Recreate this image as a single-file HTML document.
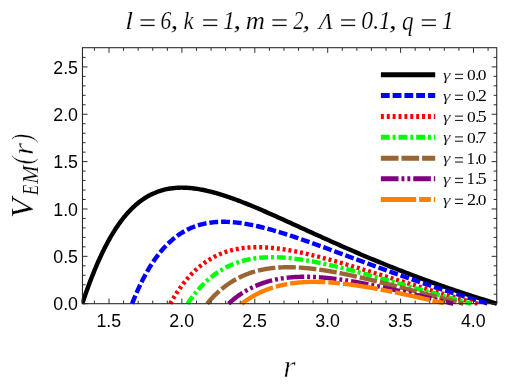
<!DOCTYPE html>
<html><head><meta charset="utf-8"><style>
html,body{margin:0;padding:0;background:#fff;}
svg{display:block;will-change:transform}
.sans{font-family:"Liberation Sans",sans-serif;fill:#000}
.si{font-family:"Liberation Serif",serif;font-style:italic;fill:#000}
.sr{font-family:"Liberation Serif",serif;fill:#000}
</style></head><body>
<svg width="532" height="387" viewBox="0 0 532 387">
<rect width="532" height="387" fill="#fff"/>
<defs><clipPath id="c"><rect x="81.45" y="47.7" width="418.3" height="259.0"/></clipPath></defs>
<g clip-path="url(#c)">
<path d="M82.23,303.70 L83.42,300.18 L84.60,296.73 L85.79,293.33 L86.98,290.00 L88.17,286.74 L89.36,283.53 L90.55,280.40 L91.73,277.32 L92.92,274.32 L94.11,271.37 L95.30,268.50 L96.49,265.68 L97.67,262.93 L98.86,260.25 L100.05,257.62 L101.24,255.06 L102.43,252.57 L103.62,250.13 L104.80,247.76 L105.99,245.44 L107.18,243.19 L108.37,240.99 L109.56,238.86 L110.75,236.78 L111.93,234.75 L113.12,232.79 L114.31,230.88 L115.50,229.02 L116.69,227.22 L117.88,225.47 L119.06,223.77 L120.25,222.12 L121.44,220.53 L122.63,218.98 L123.82,217.48 L125.01,216.03 L126.19,214.63 L127.38,213.27 L128.57,211.95 L129.76,210.69 L130.95,209.46 L132.14,208.28 L133.32,207.14 L134.51,206.04 L135.70,204.98 L136.89,203.96 L138.08,202.98 L139.27,202.04 L140.45,201.13 L141.64,200.26 L142.83,199.43 L144.02,198.63 L145.21,197.86 L146.40,197.13 L147.58,196.44 L148.77,195.77 L149.96,195.13 L151.15,194.53 L152.34,193.96 L153.53,193.41 L154.71,192.90 L155.90,192.41 L157.09,191.95 L158.28,191.52 L159.47,191.11 L160.66,190.73 L161.84,190.37 L163.03,190.04 L164.22,189.74 L165.41,189.45 L166.60,189.19 L167.79,188.95 L168.97,188.74 L170.16,188.54 L171.35,188.37 L172.54,188.21 L173.73,188.08 L174.92,187.97 L176.10,187.87 L177.29,187.80 L178.48,187.74 L179.67,187.70 L180.86,187.67 L182.05,187.67 L183.23,187.68 L184.42,187.70 L185.61,187.75 L186.80,187.80 L187.99,187.88 L189.18,187.96 L190.36,188.06 L191.55,188.18 L192.74,188.31 L193.93,188.45 L195.12,188.60 L196.31,188.77 L197.49,188.95 L198.68,189.14 L199.87,189.34 L201.06,189.55 L202.25,189.78 L203.44,190.01 L204.62,190.26 L205.81,190.52 L207.00,190.78 L208.19,191.06 L209.38,191.34 L210.57,191.64 L211.75,191.94 L212.94,192.25 L214.13,192.57 L215.32,192.90 L216.51,193.23 L217.70,193.58 L218.88,193.93 L220.07,194.29 L221.26,194.65 L222.45,195.02 L223.64,195.40 L224.83,195.79 L226.01,196.18 L227.20,196.58 L228.39,196.98 L229.58,197.39 L230.77,197.81 L231.96,198.23 L233.14,198.65 L234.33,199.08 L235.52,199.52 L236.71,199.96 L237.90,200.41 L239.09,200.86 L240.27,201.31 L241.46,201.77 L242.65,202.23 L243.84,202.70 L245.03,203.17 L246.22,203.64 L247.40,204.12 L248.59,204.60 L249.78,205.08 L250.97,205.57 L252.16,206.06 L253.35,206.55 L254.53,207.05 L255.72,207.55 L256.91,208.05 L258.10,208.55 L259.29,209.06 L260.48,209.57 L261.66,210.08 L262.85,210.59 L264.04,211.11 L265.23,211.63 L266.42,212.14 L267.61,212.66 L268.79,213.19 L269.98,213.71 L271.17,214.24 L272.36,214.76 L273.55,215.29 L274.74,215.82 L275.92,216.35 L277.11,216.88 L278.30,217.42 L279.49,217.95 L280.68,218.49 L281.87,219.02 L283.05,219.56 L284.24,220.10 L285.43,220.64 L286.62,221.17 L287.81,221.71 L289.00,222.25 L290.18,222.79 L291.37,223.34 L292.56,223.88 L293.75,224.42 L294.94,224.96 L296.13,225.50 L297.31,226.05 L298.50,226.59 L299.69,227.13 L300.88,227.67 L302.07,228.22 L303.26,228.76 L304.44,229.30 L305.63,229.84 L306.82,230.39 L308.01,230.93 L309.20,231.47 L310.39,232.01 L311.57,232.55 L312.76,233.09 L313.95,233.63 L315.14,234.17 L316.33,234.71 L317.52,235.25 L318.70,235.79 L319.89,236.33 L321.08,236.87 L322.27,237.41 L323.46,237.94 L324.65,238.48 L325.83,239.01 L327.02,239.55 L328.21,240.08 L329.40,240.61 L330.59,241.15 L331.78,241.68 L332.96,242.21 L334.15,242.74 L335.34,243.27 L336.53,243.80 L337.72,244.32 L338.91,244.85 L340.09,245.37 L341.28,245.90 L342.47,246.42 L343.66,246.95 L344.85,247.47 L346.04,247.99 L347.22,248.51 L348.41,249.03 L349.60,249.54 L350.79,250.06 L351.98,250.57 L353.17,251.09 L354.35,251.60 L355.54,252.11 L356.73,252.63 L357.92,253.14 L359.11,253.64 L360.30,254.15 L361.48,254.66 L362.67,255.16 L363.86,255.67 L365.05,256.17 L366.24,256.67 L367.43,257.17 L368.61,257.67 L369.80,258.17 L370.99,258.66 L372.18,259.16 L373.37,259.65 L374.56,260.15 L375.74,260.64 L376.93,261.13 L378.12,261.62 L379.31,262.10 L380.50,262.59 L381.69,263.08 L382.87,263.56 L384.06,264.04 L385.25,264.52 L386.44,265.00 L387.63,265.48 L388.82,265.96 L390.00,266.43 L391.19,266.91 L392.38,267.38 L393.57,267.85 L394.76,268.32 L395.94,268.79 L397.13,269.26 L398.32,269.73 L399.51,270.19 L400.70,270.66 L401.89,271.12 L403.07,271.58 L404.26,272.04 L405.45,272.50 L406.64,272.95 L407.83,273.41 L409.02,273.86 L410.20,274.31 L411.39,274.77 L412.58,275.22 L413.77,275.66 L414.96,276.11 L416.15,276.56 L417.33,277.00 L418.52,277.44 L419.71,277.89 L420.90,278.33 L422.09,278.76 L423.28,279.20 L424.46,279.64 L425.65,280.07 L426.84,280.51 L428.03,280.94 L429.22,281.37 L430.41,281.80 L431.59,282.23 L432.78,282.65 L433.97,283.08 L435.16,283.50 L436.35,283.92 L437.54,284.34 L438.72,284.76 L439.91,285.18 L441.10,285.60 L442.29,286.01 L443.48,286.43 L444.67,286.84 L445.85,287.25 L447.04,287.66 L448.23,288.07 L449.42,288.48 L450.61,288.89 L451.80,289.29 L452.98,289.69 L454.17,290.10 L455.36,290.50 L456.55,290.90 L457.74,291.29 L458.93,291.69 L460.11,292.09 L461.30,292.48 L462.49,292.87 L463.68,293.26 L464.87,293.65 L466.06,294.04 L467.24,294.43 L468.43,294.82 L469.62,295.20 L470.81,295.58 L472.00,295.97 L473.19,296.35 L474.37,296.73 L475.56,297.11 L476.75,297.48 L477.94,297.86 L479.13,298.23 L480.32,298.61 L481.50,298.98 L482.69,299.35 L483.88,299.72 L485.07,300.09 L486.26,300.45 L487.45,300.82 L488.63,301.18 L489.82,301.55 L491.01,301.91 L492.20,302.27 L493.39,302.63 L494.58,302.99 L495.76,303.34 L496.95,303.70" fill="none" stroke="#000000" stroke-width="4.4" stroke-linejoin="round"/>
<path d="M132.08,303.70 L133.10,301.12 L134.12,298.61 L135.14,296.15 L136.16,293.76 L137.18,291.43 L138.21,289.15 L139.23,286.94 L140.25,284.78 L141.27,282.67 L142.29,280.62 L143.31,278.62 L144.33,276.67 L145.36,274.77 L146.38,272.93 L147.40,271.13 L148.42,269.38 L149.44,267.67 L150.46,266.01 L151.48,264.39 L152.51,262.82 L153.53,261.29 L154.55,259.80 L155.57,258.35 L156.59,256.95 L157.61,255.58 L158.63,254.25 L159.65,252.96 L160.68,251.70 L161.70,250.48 L162.72,249.30 L163.74,248.15 L164.76,247.03 L165.78,245.95 L166.80,244.90 L167.83,243.88 L168.85,242.89 L169.87,241.93 L170.89,241.01 L171.91,240.11 L172.93,239.24 L173.95,238.40 L174.98,237.58 L176.00,236.79 L177.02,236.03 L178.04,235.30 L179.06,234.59 L180.08,233.90 L181.10,233.24 L182.13,232.60 L183.15,231.99 L184.17,231.39 L185.19,230.82 L186.21,230.27 L187.23,229.75 L188.25,229.24 L189.28,228.76 L190.30,228.29 L191.32,227.84 L192.34,227.42 L193.36,227.01 L194.38,226.62 L195.40,226.25 L196.43,225.89 L197.45,225.56 L198.47,225.24 L199.49,224.93 L200.51,224.64 L201.53,224.37 L202.55,224.12 L203.57,223.88 L204.60,223.65 L205.62,223.44 L206.64,223.24 L207.66,223.06 L208.68,222.89 L209.70,222.73 L210.72,222.59 L211.75,222.46 L212.77,222.34 L213.79,222.24 L214.81,222.14 L215.83,222.06 L216.85,221.99 L217.87,221.93 L218.90,221.88 L219.92,221.85 L220.94,221.82 L221.96,221.80 L222.98,221.80 L224.00,221.80 L225.02,221.81 L226.05,221.84 L227.07,221.87 L228.09,221.91 L229.11,221.96 L230.13,222.02 L231.15,222.08 L232.17,222.16 L233.20,222.24 L234.22,222.34 L235.24,222.43 L236.26,222.54 L237.28,222.66 L238.30,222.78 L239.32,222.91 L240.34,223.04 L241.37,223.18 L242.39,223.33 L243.41,223.49 L244.43,223.65 L245.45,223.82 L246.47,223.99 L247.49,224.17 L248.52,224.36 L249.54,224.55 L250.56,224.75 L251.58,224.95 L252.60,225.16 L253.62,225.37 L254.64,225.59 L255.67,225.81 L256.69,226.04 L257.71,226.27 L258.73,226.51 L259.75,226.75 L260.77,227.00 L261.79,227.25 L262.82,227.50 L263.84,227.76 L264.86,228.02 L265.88,228.29 L266.90,228.56 L267.92,228.83 L268.94,229.11 L269.97,229.39 L270.99,229.67 L272.01,229.96 L273.03,230.25 L274.05,230.54 L275.07,230.84 L276.09,231.14 L277.12,231.44 L278.14,231.75 L279.16,232.05 L280.18,232.37 L281.20,232.68 L282.22,233.00 L283.24,233.31 L284.26,233.63 L285.29,233.96 L286.31,234.28 L287.33,234.61 L288.35,234.94 L289.37,235.27 L290.39,235.61 L291.41,235.94 L292.44,236.28 L293.46,236.62 L294.48,236.96 L295.50,237.31 L296.52,237.65 L297.54,238.00 L298.56,238.35 L299.59,238.70 L300.61,239.05 L301.63,239.40 L302.65,239.75 L303.67,240.11 L304.69,240.47 L305.71,240.82 L306.74,241.18 L307.76,241.54 L308.78,241.90 L309.80,242.27 L310.82,242.63 L311.84,243.00 L312.86,243.36 L313.89,243.73 L314.91,244.09 L315.93,244.46 L316.95,244.83 L317.97,245.20 L318.99,245.57 L320.01,245.94 L321.04,246.31 L322.06,246.69 L323.08,247.06 L324.10,247.43 L325.12,247.81 L326.14,248.18 L327.16,248.56 L328.18,248.93 L329.21,249.31 L330.23,249.69 L331.25,250.06 L332.27,250.44 L333.29,250.82 L334.31,251.19 L335.33,251.57 L336.36,251.95 L337.38,252.33 L338.40,252.71 L339.42,253.09 L340.44,253.47 L341.46,253.84 L342.48,254.22 L343.51,254.60 L344.53,254.98 L345.55,255.36 L346.57,255.74 L347.59,256.12 L348.61,256.50 L349.63,256.88 L350.66,257.26 L351.68,257.64 L352.70,258.02 L353.72,258.39 L354.74,258.77 L355.76,259.15 L356.78,259.53 L357.81,259.91 L358.83,260.29 L359.85,260.66 L360.87,261.04 L361.89,261.42 L362.91,261.80 L363.93,262.17 L364.95,262.55 L365.98,262.93 L367.00,263.30 L368.02,263.68 L369.04,264.05 L370.06,264.43 L371.08,264.80 L372.10,265.18 L373.13,265.55 L374.15,265.92 L375.17,266.30 L376.19,266.67 L377.21,267.04 L378.23,267.41 L379.25,267.78 L380.28,268.15 L381.30,268.52 L382.32,268.89 L383.34,269.26 L384.36,269.63 L385.38,270.00 L386.40,270.37 L387.43,270.74 L388.45,271.10 L389.47,271.47 L390.49,271.83 L391.51,272.20 L392.53,272.56 L393.55,272.93 L394.58,273.29 L395.60,273.65 L396.62,274.02 L397.64,274.38 L398.66,274.74 L399.68,275.10 L400.70,275.46 L401.73,275.82 L402.75,276.18 L403.77,276.53 L404.79,276.89 L405.81,277.25 L406.83,277.60 L407.85,277.96 L408.87,278.31 L409.90,278.67 L410.92,279.02 L411.94,279.37 L412.96,279.73 L413.98,280.08 L415.00,280.43 L416.02,280.78 L417.05,281.13 L418.07,281.47 L419.09,281.82 L420.11,282.17 L421.13,282.52 L422.15,282.86 L423.17,283.21 L424.20,283.55 L425.22,283.89 L426.24,284.24 L427.26,284.58 L428.28,284.92 L429.30,285.26 L430.32,285.60 L431.35,285.94 L432.37,286.28 L433.39,286.61 L434.41,286.95 L435.43,287.29 L436.45,287.62 L437.47,287.96 L438.50,288.29 L439.52,288.62 L440.54,288.96 L441.56,289.29 L442.58,289.62 L443.60,289.95 L444.62,290.28 L445.64,290.61 L446.67,290.93 L447.69,291.26 L448.71,291.59 L449.73,291.91 L450.75,292.24 L451.77,292.56 L452.79,292.88 L453.82,293.21 L454.84,293.53 L455.86,293.85 L456.88,294.17 L457.90,294.49 L458.92,294.81 L459.94,295.12 L460.97,295.44 L461.99,295.76 L463.01,296.07 L464.03,296.39 L465.05,296.70 L466.07,297.01 L467.09,297.33 L468.12,297.64 L469.14,297.95 L470.16,298.26 L471.18,298.57 L472.20,298.87 L473.22,299.18 L474.24,299.49 L475.27,299.79 L476.29,300.10 L477.31,300.40 L478.33,300.71 L479.35,301.01 L480.37,301.31 L481.39,301.61 L482.42,301.91 L483.44,302.21 L484.46,302.51 L485.48,302.81 L486.50,303.11 L487.52,303.40 L488.54,303.70" fill="none" stroke="#0000ff" stroke-width="4.4" stroke-linejoin="round" stroke-dasharray="8.82,2.94" stroke-dashoffset="0"/>
<path d="M170.24,303.70 L171.13,302.13 L172.01,300.60 L172.89,299.10 L173.77,297.63 L174.65,296.19 L175.53,294.79 L176.41,293.41 L177.29,292.07 L178.17,290.75 L179.05,289.47 L179.93,288.21 L180.81,286.98 L181.69,285.78 L182.57,284.60 L183.46,283.45 L184.34,282.33 L185.22,281.24 L186.10,280.16 L186.98,279.12 L187.86,278.10 L188.74,277.10 L189.62,276.12 L190.50,275.17 L191.38,274.24 L192.26,273.33 L193.14,272.45 L194.02,271.58 L194.90,270.74 L195.79,269.92 L196.67,269.11 L197.55,268.33 L198.43,267.57 L199.31,266.82 L200.19,266.10 L201.07,265.39 L201.95,264.70 L202.83,264.03 L203.71,263.38 L204.59,262.75 L205.47,262.13 L206.35,261.53 L207.23,260.94 L208.12,260.37 L209.00,259.82 L209.88,259.28 L210.76,258.76 L211.64,258.25 L212.52,257.76 L213.40,257.28 L214.28,256.81 L215.16,256.36 L216.04,255.93 L216.92,255.50 L217.80,255.09 L218.68,254.70 L219.56,254.31 L220.45,253.94 L221.33,253.58 L222.21,253.23 L223.09,252.90 L223.97,252.58 L224.85,252.26 L225.73,251.96 L226.61,251.67 L227.49,251.39 L228.37,251.13 L229.25,250.87 L230.13,250.62 L231.01,250.38 L231.89,250.16 L232.77,249.94 L233.66,249.73 L234.54,249.53 L235.42,249.34 L236.30,249.16 L237.18,248.99 L238.06,248.83 L238.94,248.68 L239.82,248.53 L240.70,248.40 L241.58,248.27 L242.46,248.15 L243.34,248.03 L244.22,247.93 L245.10,247.83 L245.99,247.74 L246.87,247.66 L247.75,247.59 L248.63,247.52 L249.51,247.46 L250.39,247.40 L251.27,247.36 L252.15,247.32 L253.03,247.28 L253.91,247.25 L254.79,247.23 L255.67,247.22 L256.55,247.21 L257.43,247.21 L258.32,247.21 L259.20,247.22 L260.08,247.23 L260.96,247.25 L261.84,247.28 L262.72,247.31 L263.60,247.34 L264.48,247.38 L265.36,247.43 L266.24,247.48 L267.12,247.53 L268.00,247.60 L268.88,247.66 L269.76,247.73 L270.65,247.80 L271.53,247.88 L272.41,247.97 L273.29,248.05 L274.17,248.14 L275.05,248.24 L275.93,248.34 L276.81,248.44 L277.69,248.55 L278.57,248.66 L279.45,248.78 L280.33,248.90 L281.21,249.02 L282.09,249.15 L282.98,249.27 L283.86,249.41 L284.74,249.54 L285.62,249.68 L286.50,249.83 L287.38,249.97 L288.26,250.12 L289.14,250.27 L290.02,250.43 L290.90,250.59 L291.78,250.75 L292.66,250.91 L293.54,251.08 L294.42,251.25 L295.31,251.42 L296.19,251.59 L297.07,251.77 L297.95,251.95 L298.83,252.13 L299.71,252.32 L300.59,252.50 L301.47,252.69 L302.35,252.88 L303.23,253.08 L304.11,253.27 L304.99,253.47 L305.87,253.67 L306.75,253.87 L307.64,254.08 L308.52,254.28 L309.40,254.49 L310.28,254.70 L311.16,254.91 L312.04,255.12 L312.92,255.34 L313.80,255.56 L314.68,255.77 L315.56,255.99 L316.44,256.22 L317.32,256.44 L318.20,256.66 L319.08,256.89 L319.96,257.12 L320.85,257.35 L321.73,257.58 L322.61,257.81 L323.49,258.04 L324.37,258.28 L325.25,258.51 L326.13,258.75 L327.01,258.99 L327.89,259.23 L328.77,259.47 L329.65,259.71 L330.53,259.95 L331.41,260.20 L332.29,260.44 L333.18,260.69 L334.06,260.94 L334.94,261.18 L335.82,261.43 L336.70,261.68 L337.58,261.93 L338.46,262.19 L339.34,262.44 L340.22,262.69 L341.10,262.95 L341.98,263.20 L342.86,263.46 L343.74,263.71 L344.62,263.97 L345.51,264.23 L346.39,264.49 L347.27,264.75 L348.15,265.01 L349.03,265.27 L349.91,265.53 L350.79,265.79 L351.67,266.05 L352.55,266.32 L353.43,266.58 L354.31,266.84 L355.19,267.11 L356.07,267.37 L356.95,267.64 L357.84,267.90 L358.72,268.17 L359.60,268.44 L360.48,268.70 L361.36,268.97 L362.24,269.24 L363.12,269.51 L364.00,269.77 L364.88,270.04 L365.76,270.31 L366.64,270.58 L367.52,270.85 L368.40,271.12 L369.28,271.39 L370.17,271.66 L371.05,271.93 L371.93,272.20 L372.81,272.47 L373.69,272.74 L374.57,273.01 L375.45,273.28 L376.33,273.56 L377.21,273.83 L378.09,274.10 L378.97,274.37 L379.85,274.64 L380.73,274.91 L381.61,275.19 L382.50,275.46 L383.38,275.73 L384.26,276.00 L385.14,276.27 L386.02,276.55 L386.90,276.82 L387.78,277.09 L388.66,277.36 L389.54,277.64 L390.42,277.91 L391.30,278.18 L392.18,278.45 L393.06,278.72 L393.94,279.00 L394.82,279.27 L395.71,279.54 L396.59,279.81 L397.47,280.08 L398.35,280.35 L399.23,280.63 L400.11,280.90 L400.99,281.17 L401.87,281.44 L402.75,281.71 L403.63,281.98 L404.51,282.25 L405.39,282.52 L406.27,282.79 L407.15,283.06 L408.04,283.33 L408.92,283.60 L409.80,283.87 L410.68,284.14 L411.56,284.41 L412.44,284.68 L413.32,284.95 L414.20,285.22 L415.08,285.48 L415.96,285.75 L416.84,286.02 L417.72,286.29 L418.60,286.55 L419.48,286.82 L420.37,287.09 L421.25,287.35 L422.13,287.62 L423.01,287.89 L423.89,288.15 L424.77,288.42 L425.65,288.68 L426.53,288.95 L427.41,289.21 L428.29,289.48 L429.17,289.74 L430.05,290.00 L430.93,290.27 L431.81,290.53 L432.70,290.79 L433.58,291.06 L434.46,291.32 L435.34,291.58 L436.22,291.84 L437.10,292.10 L437.98,292.36 L438.86,292.62 L439.74,292.88 L440.62,293.14 L441.50,293.40 L442.38,293.66 L443.26,293.92 L444.14,294.18 L445.03,294.44 L445.91,294.69 L446.79,294.95 L447.67,295.21 L448.55,295.46 L449.43,295.72 L450.31,295.98 L451.19,296.23 L452.07,296.49 L452.95,296.74 L453.83,296.99 L454.71,297.25 L455.59,297.50 L456.47,297.75 L457.36,298.01 L458.24,298.26 L459.12,298.51 L460.00,298.76 L460.88,299.01 L461.76,299.26 L462.64,299.51 L463.52,299.76 L464.40,300.01 L465.28,300.26 L466.16,300.51 L467.04,300.76 L467.92,301.00 L468.80,301.25 L469.68,301.50 L470.57,301.74 L471.45,301.99 L472.33,302.24 L473.21,302.48 L474.09,302.73 L474.97,302.97 L475.85,303.21 L476.73,303.46 L477.61,303.70" fill="none" stroke="#ff0000" stroke-width="4.4" stroke-linejoin="round" stroke-dasharray="2.94,2.94" stroke-dashoffset="0"/>
<path d="M187.60,303.70 L188.41,302.50 L189.22,301.32 L190.03,300.16 L190.85,299.02 L191.66,297.91 L192.47,296.82 L193.29,295.76 L194.10,294.71 L194.91,293.69 L195.73,292.68 L196.54,291.70 L197.35,290.74 L198.17,289.79 L198.98,288.87 L199.79,287.97 L200.60,287.08 L201.42,286.21 L202.23,285.37 L203.04,284.54 L203.86,283.72 L204.67,282.93 L205.48,282.15 L206.30,281.39 L207.11,280.64 L207.92,279.92 L208.74,279.20 L209.55,278.51 L210.36,277.83 L211.17,277.16 L211.99,276.51 L212.80,275.87 L213.61,275.25 L214.43,274.65 L215.24,274.05 L216.05,273.47 L216.87,272.91 L217.68,272.36 L218.49,271.82 L219.31,271.29 L220.12,270.78 L220.93,270.28 L221.74,269.79 L222.56,269.32 L223.37,268.85 L224.18,268.40 L225.00,267.96 L225.81,267.53 L226.62,267.12 L227.44,266.71 L228.25,266.31 L229.06,265.93 L229.88,265.56 L230.69,265.19 L231.50,264.84 L232.31,264.50 L233.13,264.16 L233.94,263.84 L234.75,263.53 L235.57,263.22 L236.38,262.93 L237.19,262.64 L238.01,262.36 L238.82,262.09 L239.63,261.83 L240.45,261.58 L241.26,261.34 L242.07,261.11 L242.88,260.88 L243.70,260.66 L244.51,260.45 L245.32,260.25 L246.14,260.06 L246.95,259.87 L247.76,259.69 L248.58,259.52 L249.39,259.35 L250.20,259.20 L251.02,259.04 L251.83,258.90 L252.64,258.76 L253.45,258.63 L254.27,258.51 L255.08,258.39 L255.89,258.28 L256.71,258.17 L257.52,258.08 L258.33,257.98 L259.15,257.90 L259.96,257.81 L260.77,257.74 L261.59,257.67 L262.40,257.60 L263.21,257.55 L264.02,257.49 L264.84,257.44 L265.65,257.40 L266.46,257.36 L267.28,257.33 L268.09,257.30 L268.90,257.28 L269.72,257.26 L270.53,257.25 L271.34,257.24 L272.15,257.24 L272.97,257.24 L273.78,257.24 L274.59,257.25 L275.41,257.27 L276.22,257.28 L277.03,257.31 L277.85,257.33 L278.66,257.36 L279.47,257.40 L280.29,257.44 L281.10,257.48 L281.91,257.52 L282.72,257.57 L283.54,257.63 L284.35,257.68 L285.16,257.74 L285.98,257.81 L286.79,257.87 L287.60,257.94 L288.42,258.02 L289.23,258.09 L290.04,258.17 L290.86,258.26 L291.67,258.34 L292.48,258.43 L293.29,258.52 L294.11,258.62 L294.92,258.72 L295.73,258.82 L296.55,258.92 L297.36,259.03 L298.17,259.14 L298.99,259.25 L299.80,259.36 L300.61,259.48 L301.43,259.60 L302.24,259.72 L303.05,259.85 L303.86,259.97 L304.68,260.10 L305.49,260.23 L306.30,260.37 L307.12,260.50 L307.93,260.64 L308.74,260.78 L309.56,260.92 L310.37,261.07 L311.18,261.22 L312.00,261.36 L312.81,261.51 L313.62,261.67 L314.43,261.82 L315.25,261.98 L316.06,262.13 L316.87,262.29 L317.69,262.46 L318.50,262.62 L319.31,262.78 L320.13,262.95 L320.94,263.12 L321.75,263.29 L322.57,263.46 L323.38,263.63 L324.19,263.81 L325.00,263.98 L325.82,264.16 L326.63,264.34 L327.44,264.52 L328.26,264.70 L329.07,264.88 L329.88,265.07 L330.70,265.25 L331.51,265.44 L332.32,265.63 L333.14,265.82 L333.95,266.01 L334.76,266.20 L335.57,266.39 L336.39,266.59 L337.20,266.78 L338.01,266.98 L338.83,267.18 L339.64,267.37 L340.45,267.57 L341.27,267.77 L342.08,267.97 L342.89,268.18 L343.71,268.38 L344.52,268.58 L345.33,268.79 L346.14,268.99 L346.96,269.20 L347.77,269.41 L348.58,269.62 L349.40,269.83 L350.21,270.04 L351.02,270.25 L351.84,270.46 L352.65,270.67 L353.46,270.88 L354.28,271.10 L355.09,271.31 L355.90,271.53 L356.71,271.74 L357.53,271.96 L358.34,272.17 L359.15,272.39 L359.97,272.61 L360.78,272.83 L361.59,273.05 L362.41,273.27 L363.22,273.49 L364.03,273.71 L364.85,273.93 L365.66,274.15 L366.47,274.37 L367.28,274.60 L368.10,274.82 L368.91,275.04 L369.72,275.27 L370.54,275.49 L371.35,275.71 L372.16,275.94 L372.98,276.16 L373.79,276.39 L374.60,276.62 L375.42,276.84 L376.23,277.07 L377.04,277.30 L377.85,277.52 L378.67,277.75 L379.48,277.98 L380.29,278.21 L381.11,278.44 L381.92,278.66 L382.73,278.89 L383.55,279.12 L384.36,279.35 L385.17,279.58 L385.99,279.81 L386.80,280.04 L387.61,280.27 L388.42,280.50 L389.24,280.73 L390.05,280.96 L390.86,281.19 L391.68,281.42 L392.49,281.65 L393.30,281.89 L394.12,282.12 L394.93,282.35 L395.74,282.58 L396.56,282.81 L397.37,283.04 L398.18,283.27 L398.99,283.51 L399.81,283.74 L400.62,283.97 L401.43,284.20 L402.25,284.43 L403.06,284.66 L403.87,284.90 L404.69,285.13 L405.50,285.36 L406.31,285.59 L407.13,285.82 L407.94,286.06 L408.75,286.29 L409.56,286.52 L410.38,286.75 L411.19,286.98 L412.00,287.21 L412.82,287.45 L413.63,287.68 L414.44,287.91 L415.26,288.14 L416.07,288.37 L416.88,288.60 L417.70,288.83 L418.51,289.06 L419.32,289.30 L420.13,289.53 L420.95,289.76 L421.76,289.99 L422.57,290.22 L423.39,290.45 L424.20,290.68 L425.01,290.91 L425.83,291.14 L426.64,291.37 L427.45,291.60 L428.26,291.83 L429.08,292.06 L429.89,292.29 L430.70,292.52 L431.52,292.75 L432.33,292.97 L433.14,293.20 L433.96,293.43 L434.77,293.66 L435.58,293.89 L436.40,294.12 L437.21,294.34 L438.02,294.57 L438.83,294.80 L439.65,295.03 L440.46,295.25 L441.27,295.48 L442.09,295.71 L442.90,295.93 L443.71,296.16 L444.53,296.38 L445.34,296.61 L446.15,296.84 L446.97,297.06 L447.78,297.29 L448.59,297.51 L449.40,297.74 L450.22,297.96 L451.03,298.18 L451.84,298.41 L452.66,298.63 L453.47,298.85 L454.28,299.08 L455.10,299.30 L455.91,299.52 L456.72,299.75 L457.54,299.97 L458.35,300.19 L459.16,300.41 L459.97,300.63 L460.79,300.85 L461.60,301.07 L462.41,301.29 L463.23,301.51 L464.04,301.73 L464.85,301.95 L465.67,302.17 L466.48,302.39 L467.29,302.61 L468.11,302.83 L468.92,303.05 L469.73,303.27 L470.54,303.48 L471.36,303.70" fill="none" stroke="#00ff00" stroke-width="4.4" stroke-linejoin="round" stroke-dasharray="8.82,2.94,2.94,2.94" stroke-dashoffset="0"/>
<path d="M207.04,303.70 L207.77,302.83 L208.50,301.97 L209.24,301.13 L209.97,300.30 L210.71,299.49 L211.44,298.70 L212.18,297.92 L212.91,297.15 L213.65,296.39 L214.38,295.65 L215.12,294.93 L215.85,294.22 L216.58,293.52 L217.32,292.83 L218.05,292.16 L218.79,291.50 L219.52,290.85 L220.26,290.21 L220.99,289.59 L221.73,288.98 L222.46,288.38 L223.19,287.79 L223.93,287.22 L224.66,286.65 L225.40,286.10 L226.13,285.56 L226.87,285.02 L227.60,284.50 L228.34,283.99 L229.07,283.49 L229.81,283.00 L230.54,282.52 L231.27,282.05 L232.01,281.59 L232.74,281.14 L233.48,280.70 L234.21,280.27 L234.95,279.85 L235.68,279.44 L236.42,279.04 L237.15,278.64 L237.88,278.25 L238.62,277.88 L239.35,277.51 L240.09,277.15 L240.82,276.80 L241.56,276.45 L242.29,276.12 L243.03,275.79 L243.76,275.47 L244.50,275.16 L245.23,274.85 L245.96,274.56 L246.70,274.27 L247.43,273.99 L248.17,273.71 L248.90,273.44 L249.64,273.18 L250.37,272.93 L251.11,272.68 L251.84,272.44 L252.57,272.21 L253.31,271.98 L254.04,271.76 L254.78,271.54 L255.51,271.34 L256.25,271.13 L256.98,270.94 L257.72,270.75 L258.45,270.56 L259.19,270.39 L259.92,270.21 L260.65,270.05 L261.39,269.89 L262.12,269.73 L262.86,269.58 L263.59,269.44 L264.33,269.30 L265.06,269.16 L265.80,269.03 L266.53,268.91 L267.27,268.79 L268.00,268.68 L268.73,268.57 L269.47,268.46 L270.20,268.36 L270.94,268.27 L271.67,268.18 L272.41,268.09 L273.14,268.01 L273.88,267.93 L274.61,267.86 L275.34,267.79 L276.08,267.73 L276.81,267.67 L277.55,267.61 L278.28,267.56 L279.02,267.51 L279.75,267.47 L280.49,267.43 L281.22,267.39 L281.96,267.36 L282.69,267.33 L283.42,267.30 L284.16,267.28 L284.89,267.27 L285.63,267.25 L286.36,267.24 L287.10,267.23 L287.83,267.23 L288.57,267.23 L289.30,267.23 L290.03,267.23 L290.77,267.24 L291.50,267.25 L292.24,267.27 L292.97,267.29 L293.71,267.31 L294.44,267.33 L295.18,267.36 L295.91,267.39 L296.65,267.42 L297.38,267.46 L298.11,267.49 L298.85,267.54 L299.58,267.58 L300.32,267.62 L301.05,267.67 L301.79,267.72 L302.52,267.78 L303.26,267.83 L303.99,267.89 L304.72,267.95 L305.46,268.02 L306.19,268.08 L306.93,268.15 L307.66,268.22 L308.40,268.29 L309.13,268.37 L309.87,268.45 L310.60,268.52 L311.34,268.61 L312.07,268.69 L312.80,268.77 L313.54,268.86 L314.27,268.95 L315.01,269.04 L315.74,269.13 L316.48,269.23 L317.21,269.33 L317.95,269.43 L318.68,269.53 L319.41,269.63 L320.15,269.73 L320.88,269.84 L321.62,269.95 L322.35,270.05 L323.09,270.17 L323.82,270.28 L324.56,270.39 L325.29,270.51 L326.03,270.62 L326.76,270.74 L327.49,270.86 L328.23,270.99 L328.96,271.11 L329.70,271.23 L330.43,271.36 L331.17,271.49 L331.90,271.62 L332.64,271.75 L333.37,271.88 L334.10,272.01 L334.84,272.14 L335.57,272.28 L336.31,272.42 L337.04,272.55 L337.78,272.69 L338.51,272.83 L339.25,272.97 L339.98,273.12 L340.72,273.26 L341.45,273.40 L342.18,273.55 L342.92,273.70 L343.65,273.84 L344.39,273.99 L345.12,274.14 L345.86,274.29 L346.59,274.45 L347.33,274.60 L348.06,274.75 L348.80,274.91 L349.53,275.06 L350.26,275.22 L351.00,275.38 L351.73,275.54 L352.47,275.69 L353.20,275.85 L353.94,276.02 L354.67,276.18 L355.41,276.34 L356.14,276.50 L356.87,276.67 L357.61,276.83 L358.34,277.00 L359.08,277.16 L359.81,277.33 L360.55,277.50 L361.28,277.67 L362.02,277.83 L362.75,278.00 L363.49,278.17 L364.22,278.35 L364.95,278.52 L365.69,278.69 L366.42,278.86 L367.16,279.04 L367.89,279.21 L368.63,279.38 L369.36,279.56 L370.10,279.73 L370.83,279.91 L371.56,280.09 L372.30,280.26 L373.03,280.44 L373.77,280.62 L374.50,280.80 L375.24,280.98 L375.97,281.16 L376.71,281.34 L377.44,281.52 L378.18,281.70 L378.91,281.88 L379.64,282.06 L380.38,282.24 L381.11,282.42 L381.85,282.61 L382.58,282.79 L383.32,282.97 L384.05,283.16 L384.79,283.34 L385.52,283.53 L386.25,283.71 L386.99,283.90 L387.72,284.08 L388.46,284.27 L389.19,284.45 L389.93,284.64 L390.66,284.83 L391.40,285.01 L392.13,285.20 L392.87,285.39 L393.60,285.58 L394.33,285.76 L395.07,285.95 L395.80,286.14 L396.54,286.33 L397.27,286.52 L398.01,286.71 L398.74,286.90 L399.48,287.08 L400.21,287.27 L400.94,287.46 L401.68,287.65 L402.41,287.84 L403.15,288.03 L403.88,288.22 L404.62,288.41 L405.35,288.61 L406.09,288.80 L406.82,288.99 L407.56,289.18 L408.29,289.37 L409.02,289.56 L409.76,289.75 L410.49,289.94 L411.23,290.13 L411.96,290.33 L412.70,290.52 L413.43,290.71 L414.17,290.90 L414.90,291.09 L415.63,291.29 L416.37,291.48 L417.10,291.67 L417.84,291.86 L418.57,292.05 L419.31,292.25 L420.04,292.44 L420.78,292.63 L421.51,292.82 L422.25,293.02 L422.98,293.21 L423.71,293.40 L424.45,293.59 L425.18,293.78 L425.92,293.98 L426.65,294.17 L427.39,294.36 L428.12,294.55 L428.86,294.75 L429.59,294.94 L430.32,295.13 L431.06,295.32 L431.79,295.51 L432.53,295.71 L433.26,295.90 L434.00,296.09 L434.73,296.28 L435.47,296.48 L436.20,296.67 L436.94,296.86 L437.67,297.05 L438.40,297.24 L439.14,297.43 L439.87,297.63 L440.61,297.82 L441.34,298.01 L442.08,298.20 L442.81,298.39 L443.55,298.58 L444.28,298.77 L445.02,298.96 L445.75,299.15 L446.48,299.35 L447.22,299.54 L447.95,299.73 L448.69,299.92 L449.42,300.11 L450.16,300.30 L450.89,300.49 L451.63,300.68 L452.36,300.87 L453.09,301.06 L453.83,301.25 L454.56,301.44 L455.30,301.63 L456.03,301.82 L456.77,302.00 L457.50,302.19 L458.24,302.38 L458.97,302.57 L459.71,302.76 L460.44,302.95 L461.17,303.14 L461.91,303.32 L462.64,303.51 L463.38,303.70" fill="none" stroke="#996633" stroke-width="4.4" stroke-linejoin="round" stroke-dasharray="17.64,2.94" stroke-dashoffset="0"/>
<path d="M228.58,303.70 L229.22,303.11 L229.87,302.54 L230.51,301.97 L231.15,301.41 L231.80,300.86 L232.44,300.32 L233.08,299.79 L233.73,299.26 L234.37,298.75 L235.02,298.24 L235.66,297.74 L236.30,297.25 L236.95,296.77 L237.59,296.30 L238.24,295.83 L238.88,295.37 L239.52,294.92 L240.17,294.48 L240.81,294.04 L241.46,293.61 L242.10,293.19 L242.74,292.78 L243.39,292.37 L244.03,291.98 L244.67,291.58 L245.32,291.20 L245.96,290.82 L246.61,290.45 L247.25,290.08 L247.89,289.73 L248.54,289.37 L249.18,289.03 L249.83,288.69 L250.47,288.36 L251.11,288.03 L251.76,287.71 L252.40,287.40 L253.05,287.09 L253.69,286.79 L254.33,286.49 L254.98,286.20 L255.62,285.92 L256.27,285.64 L256.91,285.36 L257.55,285.10 L258.20,284.83 L258.84,284.58 L259.48,284.32 L260.13,284.08 L260.77,283.84 L261.42,283.60 L262.06,283.37 L262.70,283.14 L263.35,282.92 L263.99,282.70 L264.64,282.49 L265.28,282.29 L265.92,282.08 L266.57,281.89 L267.21,281.69 L267.86,281.50 L268.50,281.32 L269.14,281.14 L269.79,280.97 L270.43,280.80 L271.07,280.63 L271.72,280.47 L272.36,280.31 L273.01,280.15 L273.65,280.01 L274.29,279.86 L274.94,279.72 L275.58,279.58 L276.23,279.45 L276.87,279.32 L277.51,279.19 L278.16,279.07 L278.80,278.95 L279.45,278.83 L280.09,278.72 L280.73,278.61 L281.38,278.51 L282.02,278.41 L282.66,278.31 L283.31,278.22 L283.95,278.13 L284.60,278.04 L285.24,277.95 L285.88,277.87 L286.53,277.79 L287.17,277.72 L287.82,277.65 L288.46,277.58 L289.10,277.52 L289.75,277.45 L290.39,277.39 L291.04,277.34 L291.68,277.28 L292.32,277.23 L292.97,277.19 L293.61,277.14 L294.25,277.10 L294.90,277.06 L295.54,277.02 L296.19,276.99 L296.83,276.96 L297.47,276.93 L298.12,276.90 L298.76,276.88 L299.41,276.86 L300.05,276.84 L300.69,276.82 L301.34,276.81 L301.98,276.80 L302.63,276.79 L303.27,276.78 L303.91,276.78 L304.56,276.78 L305.20,276.78 L305.84,276.78 L306.49,276.78 L307.13,276.79 L307.78,276.80 L308.42,276.81 L309.06,276.82 L309.71,276.84 L310.35,276.86 L311.00,276.88 L311.64,276.90 L312.28,276.92 L312.93,276.95 L313.57,276.97 L314.22,277.00 L314.86,277.03 L315.50,277.07 L316.15,277.10 L316.79,277.14 L317.44,277.17 L318.08,277.21 L318.72,277.26 L319.37,277.30 L320.01,277.34 L320.65,277.39 L321.30,277.44 L321.94,277.49 L322.59,277.54 L323.23,277.59 L323.87,277.65 L324.52,277.71 L325.16,277.76 L325.81,277.82 L326.45,277.88 L327.09,277.95 L327.74,278.01 L328.38,278.08 L329.03,278.14 L329.67,278.21 L330.31,278.28 L330.96,278.35 L331.60,278.42 L332.24,278.50 L332.89,278.57 L333.53,278.65 L334.18,278.73 L334.82,278.80 L335.46,278.88 L336.11,278.97 L336.75,279.05 L337.40,279.13 L338.04,279.22 L338.68,279.30 L339.33,279.39 L339.97,279.48 L340.62,279.57 L341.26,279.66 L341.90,279.75 L342.55,279.84 L343.19,279.94 L343.83,280.03 L344.48,280.13 L345.12,280.22 L345.77,280.32 L346.41,280.42 L347.05,280.52 L347.70,280.62 L348.34,280.72 L348.99,280.83 L349.63,280.93 L350.27,281.03 L350.92,281.14 L351.56,281.25 L352.21,281.35 L352.85,281.46 L353.49,281.57 L354.14,281.68 L354.78,281.79 L355.42,281.90 L356.07,282.02 L356.71,282.13 L357.36,282.24 L358.00,282.36 L358.64,282.47 L359.29,282.59 L359.93,282.71 L360.58,282.82 L361.22,282.94 L361.86,283.06 L362.51,283.18 L363.15,283.30 L363.80,283.42 L364.44,283.55 L365.08,283.67 L365.73,283.79 L366.37,283.92 L367.01,284.04 L367.66,284.17 L368.30,284.29 L368.95,284.42 L369.59,284.54 L370.23,284.67 L370.88,284.80 L371.52,284.93 L372.17,285.06 L372.81,285.19 L373.45,285.32 L374.10,285.45 L374.74,285.58 L375.39,285.71 L376.03,285.85 L376.67,285.98 L377.32,286.11 L377.96,286.25 L378.61,286.38 L379.25,286.52 L379.89,286.65 L380.54,286.79 L381.18,286.92 L381.82,287.06 L382.47,287.20 L383.11,287.33 L383.76,287.47 L384.40,287.61 L385.04,287.75 L385.69,287.89 L386.33,288.03 L386.98,288.17 L387.62,288.31 L388.26,288.45 L388.91,288.59 L389.55,288.73 L390.20,288.88 L390.84,289.02 L391.48,289.16 L392.13,289.30 L392.77,289.45 L393.41,289.59 L394.06,289.73 L394.70,289.88 L395.35,290.02 L395.99,290.17 L396.63,290.31 L397.28,290.46 L397.92,290.60 L398.57,290.75 L399.21,290.90 L399.85,291.04 L400.50,291.19 L401.14,291.34 L401.79,291.48 L402.43,291.63 L403.07,291.78 L403.72,291.93 L404.36,292.07 L405.00,292.22 L405.65,292.37 L406.29,292.52 L406.94,292.67 L407.58,292.82 L408.22,292.97 L408.87,293.12 L409.51,293.27 L410.16,293.42 L410.80,293.57 L411.44,293.72 L412.09,293.87 L412.73,294.02 L413.38,294.17 L414.02,294.32 L414.66,294.47 L415.31,294.62 L415.95,294.78 L416.59,294.93 L417.24,295.08 L417.88,295.23 L418.53,295.38 L419.17,295.54 L419.81,295.69 L420.46,295.84 L421.10,295.99 L421.75,296.15 L422.39,296.30 L423.03,296.45 L423.68,296.61 L424.32,296.76 L424.97,296.91 L425.61,297.06 L426.25,297.22 L426.90,297.37 L427.54,297.53 L428.18,297.68 L428.83,297.83 L429.47,297.99 L430.12,298.14 L430.76,298.29 L431.40,298.45 L432.05,298.60 L432.69,298.76 L433.34,298.91 L433.98,299.06 L434.62,299.22 L435.27,299.37 L435.91,299.53 L436.56,299.68 L437.20,299.84 L437.84,299.99 L438.49,300.15 L439.13,300.30 L439.78,300.45 L440.42,300.61 L441.06,300.76 L441.71,300.92 L442.35,301.07 L442.99,301.23 L443.64,301.38 L444.28,301.54 L444.93,301.69 L445.57,301.85 L446.21,302.00 L446.86,302.15 L447.50,302.31 L448.15,302.46 L448.79,302.62 L449.43,302.77 L450.08,302.93 L450.72,303.08 L451.37,303.24 L452.01,303.39 L452.65,303.55 L453.30,303.70" fill="none" stroke="#800080" stroke-width="4.4" stroke-linejoin="round" stroke-dasharray="17.64,2.94,2.94,2.94,2.94,2.94" stroke-dashoffset="0"/>
<path d="M241.84,303.70 L242.42,303.25 L243.01,302.81 L243.59,302.38 L244.18,301.95 L244.77,301.53 L245.35,301.11 L245.94,300.70 L246.53,300.30 L247.11,299.90 L247.70,299.51 L248.28,299.12 L248.87,298.74 L249.46,298.37 L250.04,298.00 L250.63,297.64 L251.22,297.28 L251.80,296.93 L252.39,296.59 L252.97,296.25 L253.56,295.91 L254.15,295.58 L254.73,295.26 L255.32,294.94 L255.90,294.63 L256.49,294.32 L257.08,294.01 L257.66,293.72 L258.25,293.42 L258.84,293.13 L259.42,292.85 L260.01,292.57 L260.59,292.30 L261.18,292.03 L261.77,291.76 L262.35,291.50 L262.94,291.25 L263.53,290.99 L264.11,290.75 L264.70,290.50 L265.28,290.27 L265.87,290.03 L266.46,289.80 L267.04,289.58 L267.63,289.36 L268.22,289.14 L268.80,288.93 L269.39,288.72 L269.97,288.51 L270.56,288.31 L271.15,288.11 L271.73,287.92 L272.32,287.73 L272.90,287.54 L273.49,287.36 L274.08,287.18 L274.66,287.01 L275.25,286.84 L275.84,286.67 L276.42,286.51 L277.01,286.35 L277.59,286.19 L278.18,286.04 L278.77,285.88 L279.35,285.74 L279.94,285.59 L280.53,285.45 L281.11,285.32 L281.70,285.18 L282.28,285.05 L282.87,284.93 L283.46,284.80 L284.04,284.68 L284.63,284.56 L285.21,284.45 L285.80,284.33 L286.39,284.22 L286.97,284.12 L287.56,284.01 L288.15,283.91 L288.73,283.82 L289.32,283.72 L289.90,283.63 L290.49,283.54 L291.08,283.45 L291.66,283.37 L292.25,283.29 L292.84,283.21 L293.42,283.13 L294.01,283.06 L294.59,282.99 L295.18,282.92 L295.77,282.85 L296.35,282.79 L296.94,282.72 L297.53,282.67 L298.11,282.61 L298.70,282.55 L299.28,282.50 L299.87,282.45 L300.46,282.41 L301.04,282.36 L301.63,282.32 L302.21,282.28 L302.80,282.24 L303.39,282.20 L303.97,282.17 L304.56,282.14 L305.15,282.11 L305.73,282.08 L306.32,282.05 L306.90,282.03 L307.49,282.01 L308.08,281.99 L308.66,281.97 L309.25,281.95 L309.84,281.94 L310.42,281.92 L311.01,281.91 L311.59,281.91 L312.18,281.90 L312.77,281.89 L313.35,281.89 L313.94,281.89 L314.53,281.89 L315.11,281.89 L315.70,281.89 L316.28,281.90 L316.87,281.91 L317.46,281.92 L318.04,281.93 L318.63,281.94 L319.21,281.95 L319.80,281.97 L320.39,281.98 L320.97,282.00 L321.56,282.02 L322.15,282.04 L322.73,282.07 L323.32,282.09 L323.90,282.12 L324.49,282.14 L325.08,282.17 L325.66,282.20 L326.25,282.23 L326.84,282.27 L327.42,282.30 L328.01,282.34 L328.59,282.37 L329.18,282.41 L329.77,282.45 L330.35,282.49 L330.94,282.54 L331.53,282.58 L332.11,282.62 L332.70,282.67 L333.28,282.72 L333.87,282.77 L334.46,282.82 L335.04,282.87 L335.63,282.92 L336.21,282.97 L336.80,283.03 L337.39,283.08 L337.97,283.14 L338.56,283.20 L339.15,283.25 L339.73,283.31 L340.32,283.37 L340.90,283.44 L341.49,283.50 L342.08,283.56 L342.66,283.63 L343.25,283.69 L343.84,283.76 L344.42,283.83 L345.01,283.90 L345.59,283.97 L346.18,284.04 L346.77,284.11 L347.35,284.18 L347.94,284.26 L348.52,284.33 L349.11,284.41 L349.70,284.48 L350.28,284.56 L350.87,284.64 L351.46,284.72 L352.04,284.80 L352.63,284.88 L353.21,284.96 L353.80,285.04 L354.39,285.13 L354.97,285.21 L355.56,285.30 L356.15,285.38 L356.73,285.47 L357.32,285.55 L357.90,285.64 L358.49,285.73 L359.08,285.82 L359.66,285.91 L360.25,286.00 L360.84,286.09 L361.42,286.18 L362.01,286.28 L362.59,286.37 L363.18,286.46 L363.77,286.56 L364.35,286.65 L364.94,286.75 L365.52,286.85 L366.11,286.94 L366.70,287.04 L367.28,287.14 L367.87,287.24 L368.46,287.34 L369.04,287.44 L369.63,287.54 L370.21,287.64 L370.80,287.75 L371.39,287.85 L371.97,287.95 L372.56,288.06 L373.15,288.16 L373.73,288.26 L374.32,288.37 L374.90,288.48 L375.49,288.58 L376.08,288.69 L376.66,288.80 L377.25,288.90 L377.84,289.01 L378.42,289.12 L379.01,289.23 L379.59,289.34 L380.18,289.45 L380.77,289.56 L381.35,289.67 L381.94,289.79 L382.52,289.90 L383.11,290.01 L383.70,290.12 L384.28,290.24 L384.87,290.35 L385.46,290.46 L386.04,290.58 L386.63,290.69 L387.21,290.81 L387.80,290.93 L388.39,291.04 L388.97,291.16 L389.56,291.28 L390.15,291.39 L390.73,291.51 L391.32,291.63 L391.90,291.75 L392.49,291.87 L393.08,291.98 L393.66,292.10 L394.25,292.22 L394.84,292.34 L395.42,292.46 L396.01,292.58 L396.59,292.71 L397.18,292.83 L397.77,292.95 L398.35,293.07 L398.94,293.19 L399.52,293.31 L400.11,293.44 L400.70,293.56 L401.28,293.68 L401.87,293.81 L402.46,293.93 L403.04,294.05 L403.63,294.18 L404.21,294.30 L404.80,294.43 L405.39,294.55 L405.97,294.68 L406.56,294.80 L407.15,294.93 L407.73,295.06 L408.32,295.18 L408.90,295.31 L409.49,295.44 L410.08,295.56 L410.66,295.69 L411.25,295.82 L411.83,295.94 L412.42,296.07 L413.01,296.20 L413.59,296.33 L414.18,296.46 L414.77,296.58 L415.35,296.71 L415.94,296.84 L416.52,296.97 L417.11,297.10 L417.70,297.23 L418.28,297.36 L418.87,297.49 L419.46,297.62 L420.04,297.75 L420.63,297.88 L421.21,298.01 L421.80,298.14 L422.39,298.27 L422.97,298.40 L423.56,298.53 L424.15,298.66 L424.73,298.79 L425.32,298.92 L425.90,299.05 L426.49,299.18 L427.08,299.32 L427.66,299.45 L428.25,299.58 L428.83,299.71 L429.42,299.84 L430.01,299.97 L430.59,300.11 L431.18,300.24 L431.77,300.37 L432.35,300.50 L432.94,300.64 L433.52,300.77 L434.11,300.90 L434.70,301.03 L435.28,301.17 L435.87,301.30 L436.46,301.43 L437.04,301.56 L437.63,301.70 L438.21,301.83 L438.80,301.96 L439.39,302.10 L439.97,302.23 L440.56,302.36 L441.15,302.50 L441.73,302.63 L442.32,302.76 L442.90,302.90 L443.49,303.03 L444.08,303.17 L444.66,303.30 L445.25,303.43 L445.83,303.57 L446.42,303.70" fill="none" stroke="#ff8000" stroke-width="4.4" stroke-linejoin="round" stroke-dasharray="35.28,2.94,11.76,2.94" stroke-dashoffset="0"/>
</g>
<rect x="82.45" y="47.7" width="414.3" height="256.0" fill="none" stroke="#222222" stroke-width="1.05"/>
<line x1="94.42" y1="303.70" x2="94.42" y2="300.60" stroke="#222222" stroke-width="0.95"/>
<line x1="94.42" y1="47.70" x2="94.42" y2="50.80" stroke="#222222" stroke-width="0.95"/>
<line x1="109.00" y1="303.70" x2="109.00" y2="298.60" stroke="#222222" stroke-width="0.95"/>
<line x1="109.00" y1="47.70" x2="109.00" y2="52.80" stroke="#222222" stroke-width="0.95"/>
<line x1="123.58" y1="303.70" x2="123.58" y2="300.60" stroke="#222222" stroke-width="0.95"/>
<line x1="123.58" y1="47.70" x2="123.58" y2="50.80" stroke="#222222" stroke-width="0.95"/>
<line x1="138.16" y1="303.70" x2="138.16" y2="300.60" stroke="#222222" stroke-width="0.95"/>
<line x1="138.16" y1="47.70" x2="138.16" y2="50.80" stroke="#222222" stroke-width="0.95"/>
<line x1="152.74" y1="303.70" x2="152.74" y2="300.60" stroke="#222222" stroke-width="0.95"/>
<line x1="152.74" y1="47.70" x2="152.74" y2="50.80" stroke="#222222" stroke-width="0.95"/>
<line x1="167.32" y1="303.70" x2="167.32" y2="300.60" stroke="#222222" stroke-width="0.95"/>
<line x1="167.32" y1="47.70" x2="167.32" y2="50.80" stroke="#222222" stroke-width="0.95"/>
<line x1="181.90" y1="303.70" x2="181.90" y2="298.60" stroke="#222222" stroke-width="0.95"/>
<line x1="181.90" y1="47.70" x2="181.90" y2="52.80" stroke="#222222" stroke-width="0.95"/>
<line x1="196.48" y1="303.70" x2="196.48" y2="300.60" stroke="#222222" stroke-width="0.95"/>
<line x1="196.48" y1="47.70" x2="196.48" y2="50.80" stroke="#222222" stroke-width="0.95"/>
<line x1="211.06" y1="303.70" x2="211.06" y2="300.60" stroke="#222222" stroke-width="0.95"/>
<line x1="211.06" y1="47.70" x2="211.06" y2="50.80" stroke="#222222" stroke-width="0.95"/>
<line x1="225.64" y1="303.70" x2="225.64" y2="300.60" stroke="#222222" stroke-width="0.95"/>
<line x1="225.64" y1="47.70" x2="225.64" y2="50.80" stroke="#222222" stroke-width="0.95"/>
<line x1="240.22" y1="303.70" x2="240.22" y2="300.60" stroke="#222222" stroke-width="0.95"/>
<line x1="240.22" y1="47.70" x2="240.22" y2="50.80" stroke="#222222" stroke-width="0.95"/>
<line x1="254.80" y1="303.70" x2="254.80" y2="298.60" stroke="#222222" stroke-width="0.95"/>
<line x1="254.80" y1="47.70" x2="254.80" y2="52.80" stroke="#222222" stroke-width="0.95"/>
<line x1="269.38" y1="303.70" x2="269.38" y2="300.60" stroke="#222222" stroke-width="0.95"/>
<line x1="269.38" y1="47.70" x2="269.38" y2="50.80" stroke="#222222" stroke-width="0.95"/>
<line x1="283.96" y1="303.70" x2="283.96" y2="300.60" stroke="#222222" stroke-width="0.95"/>
<line x1="283.96" y1="47.70" x2="283.96" y2="50.80" stroke="#222222" stroke-width="0.95"/>
<line x1="298.54" y1="303.70" x2="298.54" y2="300.60" stroke="#222222" stroke-width="0.95"/>
<line x1="298.54" y1="47.70" x2="298.54" y2="50.80" stroke="#222222" stroke-width="0.95"/>
<line x1="313.12" y1="303.70" x2="313.12" y2="300.60" stroke="#222222" stroke-width="0.95"/>
<line x1="313.12" y1="47.70" x2="313.12" y2="50.80" stroke="#222222" stroke-width="0.95"/>
<line x1="327.70" y1="303.70" x2="327.70" y2="298.60" stroke="#222222" stroke-width="0.95"/>
<line x1="327.70" y1="47.70" x2="327.70" y2="52.80" stroke="#222222" stroke-width="0.95"/>
<line x1="342.28" y1="303.70" x2="342.28" y2="300.60" stroke="#222222" stroke-width="0.95"/>
<line x1="342.28" y1="47.70" x2="342.28" y2="50.80" stroke="#222222" stroke-width="0.95"/>
<line x1="356.86" y1="303.70" x2="356.86" y2="300.60" stroke="#222222" stroke-width="0.95"/>
<line x1="356.86" y1="47.70" x2="356.86" y2="50.80" stroke="#222222" stroke-width="0.95"/>
<line x1="371.44" y1="303.70" x2="371.44" y2="300.60" stroke="#222222" stroke-width="0.95"/>
<line x1="371.44" y1="47.70" x2="371.44" y2="50.80" stroke="#222222" stroke-width="0.95"/>
<line x1="386.02" y1="303.70" x2="386.02" y2="300.60" stroke="#222222" stroke-width="0.95"/>
<line x1="386.02" y1="47.70" x2="386.02" y2="50.80" stroke="#222222" stroke-width="0.95"/>
<line x1="400.60" y1="303.70" x2="400.60" y2="298.60" stroke="#222222" stroke-width="0.95"/>
<line x1="400.60" y1="47.70" x2="400.60" y2="52.80" stroke="#222222" stroke-width="0.95"/>
<line x1="415.18" y1="303.70" x2="415.18" y2="300.60" stroke="#222222" stroke-width="0.95"/>
<line x1="415.18" y1="47.70" x2="415.18" y2="50.80" stroke="#222222" stroke-width="0.95"/>
<line x1="429.76" y1="303.70" x2="429.76" y2="300.60" stroke="#222222" stroke-width="0.95"/>
<line x1="429.76" y1="47.70" x2="429.76" y2="50.80" stroke="#222222" stroke-width="0.95"/>
<line x1="444.34" y1="303.70" x2="444.34" y2="300.60" stroke="#222222" stroke-width="0.95"/>
<line x1="444.34" y1="47.70" x2="444.34" y2="50.80" stroke="#222222" stroke-width="0.95"/>
<line x1="458.92" y1="303.70" x2="458.92" y2="300.60" stroke="#222222" stroke-width="0.95"/>
<line x1="458.92" y1="47.70" x2="458.92" y2="50.80" stroke="#222222" stroke-width="0.95"/>
<line x1="473.50" y1="303.70" x2="473.50" y2="298.60" stroke="#222222" stroke-width="0.95"/>
<line x1="473.50" y1="47.70" x2="473.50" y2="52.80" stroke="#222222" stroke-width="0.95"/>
<line x1="488.08" y1="303.70" x2="488.08" y2="300.60" stroke="#222222" stroke-width="0.95"/>
<line x1="488.08" y1="47.70" x2="488.08" y2="50.80" stroke="#222222" stroke-width="0.95"/>
<line x1="82.45" y1="303.70" x2="87.55" y2="303.70" stroke="#222222" stroke-width="0.95"/>
<line x1="496.75" y1="303.70" x2="491.65" y2="303.70" stroke="#222222" stroke-width="0.95"/>
<line x1="82.45" y1="294.23" x2="85.55" y2="294.23" stroke="#222222" stroke-width="0.95"/>
<line x1="496.75" y1="294.23" x2="493.65" y2="294.23" stroke="#222222" stroke-width="0.95"/>
<line x1="82.45" y1="284.76" x2="85.55" y2="284.76" stroke="#222222" stroke-width="0.95"/>
<line x1="496.75" y1="284.76" x2="493.65" y2="284.76" stroke="#222222" stroke-width="0.95"/>
<line x1="82.45" y1="275.28" x2="85.55" y2="275.28" stroke="#222222" stroke-width="0.95"/>
<line x1="496.75" y1="275.28" x2="493.65" y2="275.28" stroke="#222222" stroke-width="0.95"/>
<line x1="82.45" y1="265.81" x2="85.55" y2="265.81" stroke="#222222" stroke-width="0.95"/>
<line x1="496.75" y1="265.81" x2="493.65" y2="265.81" stroke="#222222" stroke-width="0.95"/>
<line x1="82.45" y1="256.34" x2="87.55" y2="256.34" stroke="#222222" stroke-width="0.95"/>
<line x1="496.75" y1="256.34" x2="491.65" y2="256.34" stroke="#222222" stroke-width="0.95"/>
<line x1="82.45" y1="246.87" x2="85.55" y2="246.87" stroke="#222222" stroke-width="0.95"/>
<line x1="496.75" y1="246.87" x2="493.65" y2="246.87" stroke="#222222" stroke-width="0.95"/>
<line x1="82.45" y1="237.40" x2="85.55" y2="237.40" stroke="#222222" stroke-width="0.95"/>
<line x1="496.75" y1="237.40" x2="493.65" y2="237.40" stroke="#222222" stroke-width="0.95"/>
<line x1="82.45" y1="227.92" x2="85.55" y2="227.92" stroke="#222222" stroke-width="0.95"/>
<line x1="496.75" y1="227.92" x2="493.65" y2="227.92" stroke="#222222" stroke-width="0.95"/>
<line x1="82.45" y1="218.45" x2="85.55" y2="218.45" stroke="#222222" stroke-width="0.95"/>
<line x1="496.75" y1="218.45" x2="493.65" y2="218.45" stroke="#222222" stroke-width="0.95"/>
<line x1="82.45" y1="208.98" x2="87.55" y2="208.98" stroke="#222222" stroke-width="0.95"/>
<line x1="496.75" y1="208.98" x2="491.65" y2="208.98" stroke="#222222" stroke-width="0.95"/>
<line x1="82.45" y1="199.51" x2="85.55" y2="199.51" stroke="#222222" stroke-width="0.95"/>
<line x1="496.75" y1="199.51" x2="493.65" y2="199.51" stroke="#222222" stroke-width="0.95"/>
<line x1="82.45" y1="190.04" x2="85.55" y2="190.04" stroke="#222222" stroke-width="0.95"/>
<line x1="496.75" y1="190.04" x2="493.65" y2="190.04" stroke="#222222" stroke-width="0.95"/>
<line x1="82.45" y1="180.56" x2="85.55" y2="180.56" stroke="#222222" stroke-width="0.95"/>
<line x1="496.75" y1="180.56" x2="493.65" y2="180.56" stroke="#222222" stroke-width="0.95"/>
<line x1="82.45" y1="171.09" x2="85.55" y2="171.09" stroke="#222222" stroke-width="0.95"/>
<line x1="496.75" y1="171.09" x2="493.65" y2="171.09" stroke="#222222" stroke-width="0.95"/>
<line x1="82.45" y1="161.62" x2="87.55" y2="161.62" stroke="#222222" stroke-width="0.95"/>
<line x1="496.75" y1="161.62" x2="491.65" y2="161.62" stroke="#222222" stroke-width="0.95"/>
<line x1="82.45" y1="152.15" x2="85.55" y2="152.15" stroke="#222222" stroke-width="0.95"/>
<line x1="496.75" y1="152.15" x2="493.65" y2="152.15" stroke="#222222" stroke-width="0.95"/>
<line x1="82.45" y1="142.68" x2="85.55" y2="142.68" stroke="#222222" stroke-width="0.95"/>
<line x1="496.75" y1="142.68" x2="493.65" y2="142.68" stroke="#222222" stroke-width="0.95"/>
<line x1="82.45" y1="133.20" x2="85.55" y2="133.20" stroke="#222222" stroke-width="0.95"/>
<line x1="496.75" y1="133.20" x2="493.65" y2="133.20" stroke="#222222" stroke-width="0.95"/>
<line x1="82.45" y1="123.73" x2="85.55" y2="123.73" stroke="#222222" stroke-width="0.95"/>
<line x1="496.75" y1="123.73" x2="493.65" y2="123.73" stroke="#222222" stroke-width="0.95"/>
<line x1="82.45" y1="114.26" x2="87.55" y2="114.26" stroke="#222222" stroke-width="0.95"/>
<line x1="496.75" y1="114.26" x2="491.65" y2="114.26" stroke="#222222" stroke-width="0.95"/>
<line x1="82.45" y1="104.79" x2="85.55" y2="104.79" stroke="#222222" stroke-width="0.95"/>
<line x1="496.75" y1="104.79" x2="493.65" y2="104.79" stroke="#222222" stroke-width="0.95"/>
<line x1="82.45" y1="95.32" x2="85.55" y2="95.32" stroke="#222222" stroke-width="0.95"/>
<line x1="496.75" y1="95.32" x2="493.65" y2="95.32" stroke="#222222" stroke-width="0.95"/>
<line x1="82.45" y1="85.84" x2="85.55" y2="85.84" stroke="#222222" stroke-width="0.95"/>
<line x1="496.75" y1="85.84" x2="493.65" y2="85.84" stroke="#222222" stroke-width="0.95"/>
<line x1="82.45" y1="76.37" x2="85.55" y2="76.37" stroke="#222222" stroke-width="0.95"/>
<line x1="496.75" y1="76.37" x2="493.65" y2="76.37" stroke="#222222" stroke-width="0.95"/>
<line x1="82.45" y1="66.90" x2="87.55" y2="66.90" stroke="#222222" stroke-width="0.95"/>
<line x1="496.75" y1="66.90" x2="491.65" y2="66.90" stroke="#222222" stroke-width="0.95"/>
<line x1="82.45" y1="57.43" x2="85.55" y2="57.43" stroke="#222222" stroke-width="0.95"/>
<line x1="496.75" y1="57.43" x2="493.65" y2="57.43" stroke="#222222" stroke-width="0.95"/>
<text x="108.80" y="327.4" text-anchor="middle" font-size="17.8" class="sans">1.5</text>
<text x="181.70" y="327.4" text-anchor="middle" font-size="17.8" class="sans">2.0</text>
<text x="254.60" y="327.4" text-anchor="middle" font-size="17.8" class="sans">2.5</text>
<text x="327.50" y="327.4" text-anchor="middle" font-size="17.8" class="sans">3.0</text>
<text x="400.40" y="327.4" text-anchor="middle" font-size="17.8" class="sans">3.5</text>
<text x="473.30" y="327.4" text-anchor="middle" font-size="17.8" class="sans">4.0</text>
<text x="78.0" y="310.30" text-anchor="end" font-size="17.8" class="sans">0.0</text>
<text x="78.0" y="262.94" text-anchor="end" font-size="17.8" class="sans">0.5</text>
<text x="78.0" y="215.58" text-anchor="end" font-size="17.8" class="sans">1.0</text>
<text x="78.0" y="168.22" text-anchor="end" font-size="17.8" class="sans">1.5</text>
<text x="78.0" y="120.86" text-anchor="end" font-size="17.8" class="sans">2.0</text>
<text x="78.0" y="73.50" text-anchor="end" font-size="17.8" class="sans">2.5</text>
<line x1="380.9" y1="74.7" x2="435.2" y2="74.7" stroke="#000000" stroke-width="5.0"/>
<text transform="translate(442.92,79.85) scale(0.1899,0.1549)" font-size="100" class="si" stroke="#fff" stroke-width="0.8">γ</text>
<rect x="455.00" y="73.80" width="8.00" height="1.01" fill="#111"/><rect x="455.00" y="78.09" width="8.00" height="1.01" fill="#111"/>
<text transform="translate(467.00,80.24) scale(0.1738,0.1556)" font-size="100" class="sr">0</text>
<text transform="translate(475.17,80.05) scale(0.1583,0.1652)" font-size="100" class="sr">.</text>
<text transform="translate(477.80,80.24) scale(0.1738,0.1556)" font-size="100" class="sr">0</text>
<line x1="380.9" y1="95.6" x2="435.2" y2="95.6" stroke="#0000ff" stroke-width="5.0" stroke-dasharray="8.82,2.94"/>
<text transform="translate(442.92,100.75) scale(0.1899,0.1549)" font-size="100" class="si" stroke="#fff" stroke-width="0.8">γ</text>
<rect x="455.00" y="94.70" width="8.00" height="1.01" fill="#111"/><rect x="455.00" y="98.99" width="8.00" height="1.01" fill="#111"/>
<text transform="translate(467.00,101.14) scale(0.1738,0.1556)" font-size="100" class="sr">0</text>
<text transform="translate(475.17,100.95) scale(0.1583,0.1652)" font-size="100" class="sr">.</text>
<text transform="translate(477.68,101.30) scale(0.1825,0.1591)" font-size="100" class="sr">2</text>
<line x1="380.9" y1="116.5" x2="435.2" y2="116.5" stroke="#ff0000" stroke-width="5.0" stroke-dasharray="2.94,2.94"/>
<text transform="translate(442.92,121.65) scale(0.1899,0.1549)" font-size="100" class="si" stroke="#fff" stroke-width="0.8">γ</text>
<rect x="455.00" y="115.60" width="8.00" height="1.01" fill="#111"/><rect x="455.00" y="119.89" width="8.00" height="1.01" fill="#111"/>
<text transform="translate(467.00,122.04) scale(0.1738,0.1556)" font-size="100" class="sr">0</text>
<text transform="translate(475.17,121.85) scale(0.1583,0.1652)" font-size="100" class="sr">.</text>
<text transform="translate(477.40,122.04) scale(0.1825,0.1579)" font-size="100" class="sr">5</text>
<line x1="380.9" y1="137.3" x2="435.2" y2="137.3" stroke="#00ff00" stroke-width="5.0" stroke-dasharray="8.82,2.94,2.94,2.94"/>
<text transform="translate(442.92,142.45) scale(0.1899,0.1549)" font-size="100" class="si" stroke="#fff" stroke-width="0.8">γ</text>
<rect x="455.00" y="136.40" width="8.00" height="1.01" fill="#111"/><rect x="455.00" y="140.69" width="8.00" height="1.01" fill="#111"/>
<text transform="translate(467.00,142.84) scale(0.1738,0.1556)" font-size="100" class="sr">0</text>
<text transform="translate(475.17,142.65) scale(0.1583,0.1652)" font-size="100" class="sr">.</text>
<text transform="translate(477.33,143.08) scale(0.1802,0.1615)" font-size="100" class="sr">7</text>
<line x1="380.9" y1="158.15" x2="435.2" y2="158.15" stroke="#996633" stroke-width="5.0" stroke-dasharray="17.64,2.94"/>
<text transform="translate(442.92,163.30) scale(0.1899,0.1549)" font-size="100" class="si" stroke="#fff" stroke-width="0.8">γ</text>
<rect x="455.00" y="157.25" width="8.00" height="1.01" fill="#111"/><rect x="455.00" y="161.54" width="8.00" height="1.01" fill="#111"/>
<text transform="translate(466.86,163.85) scale(0.1600,0.1603)" font-size="100" class="sr">1</text>
<text transform="translate(475.17,163.50) scale(0.1583,0.1652)" font-size="100" class="sr">.</text>
<text transform="translate(477.80,163.69) scale(0.1738,0.1556)" font-size="100" class="sr">0</text>
<line x1="380.9" y1="178.7" x2="435.2" y2="178.7" stroke="#800080" stroke-width="5.0" stroke-dasharray="17.64,2.94,2.94,2.94,2.94,2.94"/>
<text transform="translate(442.92,183.85) scale(0.1899,0.1549)" font-size="100" class="si" stroke="#fff" stroke-width="0.8">γ</text>
<rect x="455.00" y="177.80" width="8.00" height="1.01" fill="#111"/><rect x="455.00" y="182.09" width="8.00" height="1.01" fill="#111"/>
<text transform="translate(466.86,184.40) scale(0.1600,0.1603)" font-size="100" class="sr">1</text>
<text transform="translate(475.17,184.05) scale(0.1583,0.1652)" font-size="100" class="sr">.</text>
<text transform="translate(477.40,184.24) scale(0.1825,0.1579)" font-size="100" class="sr">5</text>
<line x1="380.9" y1="199.6" x2="435.2" y2="199.6" stroke="#ff8000" stroke-width="5.0" stroke-dasharray="35.28,2.94,11.76,2.94"/>
<text transform="translate(442.92,204.75) scale(0.1899,0.1549)" font-size="100" class="si" stroke="#fff" stroke-width="0.8">γ</text>
<rect x="455.00" y="198.70" width="8.00" height="1.01" fill="#111"/><rect x="455.00" y="202.99" width="8.00" height="1.01" fill="#111"/>
<text transform="translate(466.88,205.30) scale(0.1825,0.1591)" font-size="100" class="sr">2</text>
<text transform="translate(475.17,204.95) scale(0.1583,0.1652)" font-size="100" class="sr">.</text>
<text transform="translate(477.80,205.14) scale(0.1738,0.1556)" font-size="100" class="sr">0</text>
<text transform="translate(125.26,29.10) scale(0.2800,0.2493)" font-size="100" class="si" stroke="#fff" stroke-width="0.8">l</text>
<rect x="140.50" y="19.30" width="14.10" height="1.29" fill="#111"/><rect x="140.50" y="24.81" width="14.10" height="1.29" fill="#111"/>
<text transform="translate(160.54,29.05) scale(0.2154,0.2463)" font-size="100" class="si" stroke="#fff" stroke-width="0.8">6</text>
<text transform="translate(170.60,28.54) scale(0.3133,0.2510)" font-size="100" class="si" stroke="#fff" stroke-width="0.8">,</text>
<text transform="translate(183.41,29.10) scale(0.2302,0.2507)" font-size="100" class="si" stroke="#fff" stroke-width="0.8">k</text>
<rect x="203.20" y="19.30" width="14.10" height="1.29" fill="#111"/><rect x="203.20" y="24.81" width="14.10" height="1.29" fill="#111"/>
<text transform="translate(222.96,29.10) scale(0.2394,0.2427)" font-size="100" class="si" stroke="#fff" stroke-width="0.8">1</text>
<text transform="translate(233.03,28.54) scale(0.3333,0.2510)" font-size="100" class="si" stroke="#fff" stroke-width="0.8">,</text>
<text transform="translate(245.87,29.23) scale(0.2667,0.2516)" font-size="100" class="si" stroke="#fff" stroke-width="0.8">m</text>
<rect x="272.40" y="19.30" width="14.20" height="1.29" fill="#111"/><rect x="272.40" y="24.81" width="14.20" height="1.29" fill="#111"/>
<text transform="translate(293.30,29.00) scale(0.2062,0.2439)" font-size="100" class="si" stroke="#fff" stroke-width="0.8">2</text>
<text transform="translate(302.36,28.54) scale(0.3267,0.2510)" font-size="100" class="si" stroke="#fff" stroke-width="0.8">,</text>
<text transform="translate(318.86,29.00) scale(0.2343,0.2382)" font-size="100" class="si" stroke="#fff" stroke-width="0.8">Λ</text>
<rect x="341.10" y="19.30" width="14.10" height="1.29" fill="#111"/><rect x="341.10" y="24.81" width="14.10" height="1.29" fill="#111"/>
<text transform="translate(361.16,29.06) scale(0.2360,0.2444)" font-size="100" class="si" stroke="#fff" stroke-width="0.8">0</text>
<text transform="translate(372.97,28.91) scale(0.2583,0.2609)" font-size="100" class="si" stroke="#fff" stroke-width="0.8">.</text>
<text transform="translate(378.66,29.10) scale(0.2394,0.2427)" font-size="100" class="si" stroke="#fff" stroke-width="0.8">1</text>
<text transform="translate(388.83,28.54) scale(0.3333,0.2510)" font-size="100" class="si" stroke="#fff" stroke-width="0.8">,</text>
<text transform="translate(402.09,29.84) scale(0.2318,0.2647)" font-size="100" class="si" stroke="#fff" stroke-width="0.8">q</text>
<rect x="421.80" y="19.30" width="14.10" height="1.29" fill="#111"/><rect x="421.80" y="24.81" width="14.10" height="1.29" fill="#111"/>
<text transform="translate(441.86,29.10) scale(0.2394,0.2427)" font-size="100" class="si" stroke="#fff" stroke-width="0.8">1</text>
<text transform="translate(283.23,376.96) scale(0.3171,0.3140)" font-size="100" class="si" stroke="#fff" stroke-width="1.6">r</text>
<g transform="rotate(-90)"><text transform="translate(-217.98,32.82) scale(0.3231,0.3188)" font-size="100" class="si" stroke="#fff" stroke-width="0.5">V</text><text transform="translate(-195.13,38.00) scale(0.1736,0.2244)" font-size="100" class="si" stroke="#fff" stroke-width="0.5">E</text><text transform="translate(-183.78,38.00) scale(0.2180,0.2262)" font-size="100" class="si" stroke="#fff" stroke-width="0.5">M</text><text transform="translate(-164.22,32.03) scale(0.2343,0.2844)" font-size="100" class="si" stroke="#fff" stroke-width="1.6">(</text><text transform="translate(-154.95,33.05) scale(0.3114,0.2903)" font-size="100" class="si" stroke="#fff" stroke-width="1.6">r</text><text transform="translate(-141.38,32.03) scale(0.2261,0.2844)" font-size="100" class="si" stroke="#fff" stroke-width="1.6">)</text></g>
</svg>
</body></html>
